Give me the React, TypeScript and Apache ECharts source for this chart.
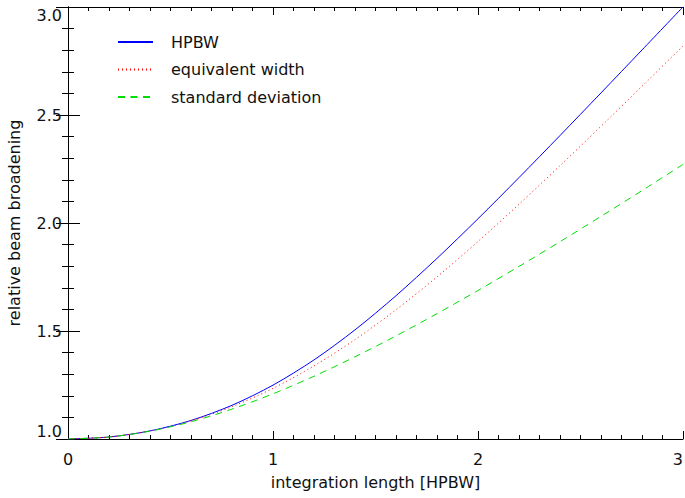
import React, { useEffect, useRef } from "react";
import * as echarts from "echarts";

const xValues = [0, 0.2, 0.4, 0.6, 0.8, 1.0, 1.2, 1.4, 1.6, 1.8, 2.0, 2.2, 2.4, 2.6, 2.8, 3.0];
const hpbwValues = [1.0, 1.0093, 1.0375, 1.0859, 1.1561, 1.2494, 1.3662, 1.5053, 1.6634, 1.8363, 2.0197, 2.2102, 2.405, 2.6023, 2.801, 3.0004];
const eqWidthValues = [1.0, 1.0093, 1.0371, 1.0838, 1.1496, 1.2345, 1.3384, 1.4602, 1.5983, 1.7506, 1.9144, 2.0868, 2.2653, 2.4479, 2.633, 2.8195];
const stdDevValues = [1.0, 1.0092, 1.0363, 1.08, 1.1383, 1.2092, 1.2905, 1.3805, 1.4775, 1.5803, 1.6877, 1.799, 1.9136, 2.0307, 2.1501, 2.2713];
const seriesNames = ["HPBW", "equivalent width", "standard deviation"];

const FONT = "DejaVu Sans";
const TXT = "#111";

export default function App() {
  const ref = useRef<HTMLDivElement>(null);
  useEffect(() => {
    if (!ref.current) return;
    const chart = echarts.init(ref.current, null, { renderer: "svg" });
    const pair = (ys: number[]) => xValues.map((x, i) => [x, ys[i]]);
    const axisLineStyle = { show: true, lineStyle: { color: "#000", width: 1 } };
    const xTick = { show: true, inside: true, length: 8, lineStyle: { color: "#000" } };
    const xMinor = { show: true, splitNumber: 10, length: 4, lineStyle: { color: "#000" } };
    const yTick = { show: true, inside: true, length: 12, lineStyle: { color: "#000" } };
    const yMinor = { show: true, splitNumber: 5, length: 6, lineStyle: { color: "#000" } };
    chart.setOption({
      animation: false,
      backgroundColor: "#fff",
      textStyle: { fontFamily: FONT },
      grid: { left: 68, right: 2, top: 7, bottom: 59, containLabel: false, outerBoundsMode: "none" },
      legend: {
        orient: "vertical",
        left: 117,
        top: 34,
        padding: 0,
        itemWidth: 35,
        itemHeight: 14,
        itemGap: 11.5,
        data: seriesNames,
        itemStyle: { opacity: 0, color: "transparent", borderWidth: 0 },
        textStyle: { fontFamily: FONT, fontSize: 16, color: TXT, lineHeight: 16, padding: [0, 0, 0, 13] },
      },
      xAxis: [
        {
          type: "value",
          min: 0,
          max: 3,
          interval: 1,
          position: "bottom",
          axisLine: axisLineStyle,
          axisTick: xTick,
          minorTick: xMinor,
          splitLine: { show: false },
          minorSplitLine: { show: false },
          axisLabel: { fontFamily: FONT, fontSize: 16, color: TXT, margin: 12, alignMaxLabel: "right" },
          name: "integration length [HPBW]",
          nameLocation: "middle",
          nameGap: 35,
          nameTextStyle: { fontFamily: FONT, fontSize: 16, color: TXT },
        },
        {
          type: "value",
          min: 0,
          max: 3,
          interval: 1,
          position: "top",
          axisLine: axisLineStyle,
          axisTick: xTick,
          minorTick: xMinor,
          splitLine: { show: false },
          minorSplitLine: { show: false },
          axisLabel: { show: false },
        },
      ],
      yAxis: [
        {
          type: "value",
          min: 1,
          max: 3,
          interval: 0.5,
          position: "left",
          axisLine: axisLineStyle,
          axisTick: yTick,
          minorTick: yMinor,
          splitLine: { show: false },
          minorSplitLine: { show: false },
          axisLabel: {
            fontFamily: FONT,
            fontSize: 16,
            color: TXT,
            margin: 6,
            formatter: (v: number) => v.toFixed(1),
            verticalAlignMinLabel: "bottom",
            verticalAlignMaxLabel: "top",
          },
          name: "relative beam broadening",
          nameLocation: "middle",
          nameGap: 46,
          nameTextStyle: { fontFamily: FONT, fontSize: 16, color: TXT },
        },
        {
          type: "value",
          min: 1,
          max: 3,
          interval: 0.5,
          position: "right",
          axisLine: axisLineStyle,
          axisTick: yTick,
          minorTick: yMinor,
          splitLine: { show: false },
          minorSplitLine: { show: false },
          axisLabel: { show: false },
        },
      ],
      series: [
        {
          name: seriesNames[0],
          type: "line",
          xAxisIndex: 0,
          yAxisIndex: 0,
          data: pair(hpbwValues),
          symbol: "none",
          smooth: 0.3,
          color: "#0000ff",
          lineStyle: { color: "#0000ff", width: 1, type: "solid" },
        },
        {
          name: seriesNames[1],
          type: "line",
          xAxisIndex: 0,
          yAxisIndex: 0,
          data: pair(eqWidthValues),
          symbol: "none",
          smooth: 0.3,
          color: "#ff0000",
          lineStyle: { color: "#ff0000", width: 1, type: [1, 3] },
        },
        {
          name: seriesNames[2],
          type: "line",
          xAxisIndex: 0,
          yAxisIndex: 0,
          data: pair(stdDevValues),
          symbol: "none",
          smooth: 0.3,
          color: "#00dd00",
          lineStyle: { color: "#00dd00", width: 1, type: [7, 5.5] },
        },
      ],
    });
    return () => chart.dispose();
  }, []);
  return (
    <div
      ref={ref}
      style={{ position: "fixed", left: 0, top: 0, width: 685, height: 498, background: "#fff" }}
    />
  );
}
